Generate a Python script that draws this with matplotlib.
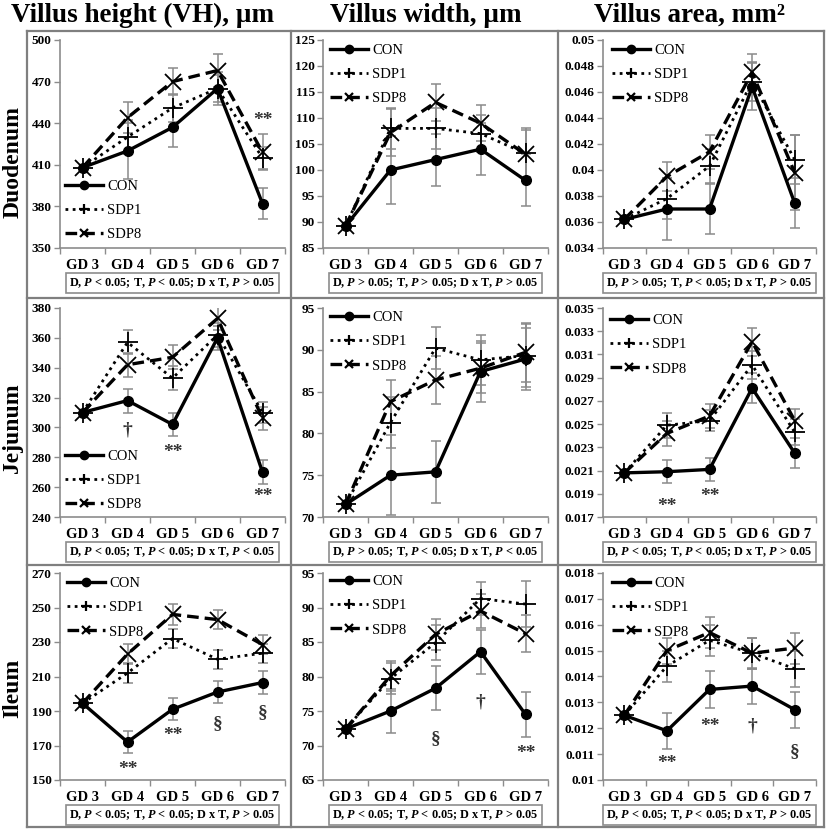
import matplotlib
matplotlib.use('Agg')
import matplotlib.pyplot as plt
from matplotlib.lines import Line2D
from matplotlib.ticker import FixedLocator, NullFormatter, FixedFormatter

plt.rcParams['font.family'] = ['Liberation Serif', 'DejaVu Serif']
plt.rcParams['mathtext.fontset'] = 'custom'
plt.rcParams['mathtext.rm'] = 'Liberation Serif:bold'
plt.rcParams['mathtext.it'] = 'Liberation Serif:italic:bold'
plt.rcParams['mathtext.bf'] = 'Liberation Serif:bold'

# ---------------- data ----------------
days = ['GD 3', 'GD 4', 'GD 5', 'GD 6', 'GD 7']
series_names = ['CON', 'SDP1', 'SDP8']
col_titles = ['Villus height (VH), µm', 'Villus width, µm', 'Villus area, mm²']
row_titles = ['Duodenum', 'Jejunum', 'Ileum']

# Duodenum
duo_vh_con = [408, 420, 437, 465, 382]
duo_vh_sdp1 = [408, 430, 451, 465, 415]
duo_vh_sdp8 = [408, 444, 470, 478, 419]
duo_vh_con_err = [0, 20, 14, 10, 11]
duo_vh_sdp1_err = [0, 12, 10, 12, 8]
duo_vh_sdp8_err = [0, 11, 10, 12, 13]

duo_vw_con = [89.2, 100, 102, 104, 98]
duo_vw_sdp1 = [89.2, 108, 108, 107, 103.2]
duo_vw_sdp8 = [89.2, 107.2, 113, 109, 103]
duo_vw_con_err = [0, 6.5, 5, 5, 5]
duo_vw_sdp1_err = [0, 4, 4, 3.5, 4.5]
duo_vw_sdp8_err = [0, 4.5, 3.5, 3.5, 5]

duo_va_con = [0.0362, 0.0370, 0.0370, 0.0464, 0.03745]
duo_va_sdp1 = [0.0362, 0.0378, 0.0403, 0.0468, 0.0408]
duo_va_sdp8 = [0.0362, 0.0395, 0.0414, 0.0475, 0.0398]
duo_va_con_err = [0, 0.0024, 0.0019, 0.0018, 0.0019]
duo_va_sdp1_err = [0, 0.0016, 0.0013, 0.0015, 0.0019]
duo_va_sdp8_err = [0, 0.0011, 0.0013, 0.0014, 0.0029]

# Jejunum
jej_vh_con = [310, 318, 302, 360, 270]
jej_vh_sdp1 = [310, 357, 333, 362, 310]
jej_vh_sdp8 = [310, 342, 347, 373, 306]
jej_vh_con_err = [0, 8, 7.5, 8, 8]
jej_vh_sdp1_err = [0, 8, 8, 8, 7]
jej_vh_sdp8_err = [0, 8, 8, 8, 8]

jej_vw_con = [71.5, 75, 75.4, 87.4, 88.9]
jej_vw_sdp1 = [71.5, 81.3, 90.2, 88.8, 89.3]
jej_vw_sdp8 = [71.5, 83.8, 86.4, 87.8, 89.7]
jej_vw_con_err = [0, 4.8, 3.7, 3.7, 3.7]
jej_vw_sdp1_err = [0, 3, 2.5, 3, 3.8]
jej_vw_sdp8_err = [0, 2.6, 2.9, 3, 3.5]

jej_va_con = [0.0208, 0.0209, 0.0211, 0.0281, 0.0225]
jej_va_sdp1 = [0.0208, 0.0249, 0.0253, 0.0301, 0.0243]
jej_va_sdp8 = [0.0208, 0.0242, 0.0257, 0.0321, 0.0253]
jej_va_con_err = [0, 0.001, 0.001, 0.0013, 0.0013]
jej_va_sdp1_err = [0, 0.0011, 0.0009, 0.0012, 0.0011]
jej_va_sdp8_err = [0, 0.0011, 0.001, 0.0012, 0.001]

# Ileum
ile_vh_con = [194.5, 172, 191, 201, 206.5]
ile_vh_sdp1 = [194.5, 212, 232, 220, 223.5]
ile_vh_sdp8 = [194.5, 223, 246, 243, 228.5]
ile_vh_con_err = [0, 6.5, 6.5, 6.5, 6.5]
ile_vh_sdp1_err = [0, 6, 5.5, 5.5, 5.5]
ile_vh_sdp8_err = [0, 6, 6, 5.5, 5.5]

ile_vw_con = [72.4, 75, 78.3, 83.6, 74.5]
ile_vw_sdp1 = [72.4, 79.7, 84.9, 91.3, 90.5]
ile_vw_sdp8 = [72.4, 80.1, 86.1, 89.5, 86.2]
ile_vw_con_err = [0, 3.2, 3.2, 3.2, 3.2]
ile_vw_sdp1_err = [0, 2.3, 2.5, 2.4, 3.3]
ile_vw_sdp8_err = [0, 2.2, 2.3, 2.5, 2.7]

ile_va_con = [0.0125, 0.0119, 0.0135, 0.01363, 0.01272]
ile_va_sdp1 = [0.0125, 0.0144, 0.0154, 0.0149, 0.0143]
ile_va_sdp8 = [0.0125, 0.0150, 0.0157, 0.0149, 0.0151]
ile_va_con_err = [0, 0.0007, 0.0007, 0.0007, 0.0007]
ile_va_sdp1_err = [0, 0.0006, 0.0006, 0.0006, 0.0007]
ile_va_sdp8_err = [0, 0.0005, 0.0006, 0.0006, 0.0006]

# y-axis ranges (min, max, step)
duo_vh_axis = (350, 500, 30)
duo_vw_axis = (85, 125, 5)
duo_va_axis = (0.034, 0.05, 0.002)
jej_vh_axis = (240, 380, 20)
jej_vw_axis = (70, 95, 5)
jej_va_axis = (0.017, 0.035, 0.002)
ile_vh_axis = (150, 270, 20)
ile_vw_axis = (65, 95, 5)
ile_va_axis = (0.01, 0.018, 0.001)

# significance marks (day index, y, symbol)
duo_vh_marks = [(4, 442, '**')]
duo_vw_marks = []
duo_va_marks = []
jej_vh_marks = [(1, 298, '†'), (2, 283, '**'), (4, 254, '**')]
jej_vw_marks = []
jej_va_marks = [(1, 0.0179, '**'), (2, 0.0188, '**')]
ile_vh_marks = [(1, 156, '**'), (2, 176, '**'), (3, 183, '§'), (4, 189, '§')]
ile_vw_marks = [(2, 71, '§'), (3, 76.3, '†'), (4, 68.8, '**')]
ile_va_marks = [(1, 0.01065, '**'), (2, 0.01207, '**'), (3, 0.01207, '†'), (4, 0.0111, '§')]

# statistics text
duo_vh_stats = ('<', '<', '>')
duo_vw_stats = ('>', '>', '>')
duo_va_stats = ('>', '<', '>')
jej_vh_stats = ('<', '<', '<')
jej_vw_stats = ('>', '<', '<')
jej_va_stats = ('<', '<', '>')
ile_vh_stats = ('<', '<', '>')
ile_vw_stats = ('<', '<', '>')
ile_va_stats = ('<', '<', '>')

panels = [
    [(duo_vh_con, duo_vh_sdp1, duo_vh_sdp8, duo_vh_con_err, duo_vh_sdp1_err, duo_vh_sdp8_err, duo_vh_axis, duo_vh_marks, duo_vh_stats),
     (duo_vw_con, duo_vw_sdp1, duo_vw_sdp8, duo_vw_con_err, duo_vw_sdp1_err, duo_vw_sdp8_err, duo_vw_axis, duo_vw_marks, duo_vw_stats),
     (duo_va_con, duo_va_sdp1, duo_va_sdp8, duo_va_con_err, duo_va_sdp1_err, duo_va_sdp8_err, duo_va_axis, duo_va_marks, duo_va_stats)],
    [(jej_vh_con, jej_vh_sdp1, jej_vh_sdp8, jej_vh_con_err, jej_vh_sdp1_err, jej_vh_sdp8_err, jej_vh_axis, jej_vh_marks, jej_vh_stats),
     (jej_vw_con, jej_vw_sdp1, jej_vw_sdp8, jej_vw_con_err, jej_vw_sdp1_err, jej_vw_sdp8_err, jej_vw_axis, jej_vw_marks, jej_vw_stats),
     (jej_va_con, jej_va_sdp1, jej_va_sdp8, jej_va_con_err, jej_va_sdp1_err, jej_va_sdp8_err, jej_va_axis, jej_va_marks, jej_va_stats)],
    [(ile_vh_con, ile_vh_sdp1, ile_vh_sdp8, ile_vh_con_err, ile_vh_sdp1_err, ile_vh_sdp8_err, ile_vh_axis, ile_vh_marks, ile_vh_stats),
     (ile_vw_con, ile_vw_sdp1, ile_vw_sdp8, ile_vw_con_err, ile_vw_sdp1_err, ile_vw_sdp8_err, ile_vw_axis, ile_vw_marks, ile_vw_stats),
     (ile_va_con, ile_va_sdp1, ile_va_sdp8, ile_va_con_err, ile_va_sdp1_err, ile_va_sdp8_err, ile_va_axis, ile_va_marks, ile_va_stats)],
]

# ---------------- layout (pixels) ----------------
W, H = 827, 831
fig = plt.figure(figsize=(W / 100, H / 100), dpi=100)
fig.patch.set_facecolor('white')

def fx(x):
    return x / W

def fy(y):
    return 1 - y / H

col_x = [(60, 285), (323, 548), (603, 816)]
row_y = [(40, 248), (308, 517), (573, 780)]
col_title_x = [143, 426, 689]
row_title_y = [162, 428, 688]
legend_pos = [[(65, 188), (330, 52), (612, 52)],
              [(65, 458), (330, 319), (610, 322)],
              [(67, 585), (330, 583), (612, 585)]]

GREY = '#8c8c8c'
ERR = '#8a8a8a'

def fmt_tick(v, step):
    if step < 1:
        s = f"{v:.3f}".rstrip('0')
        return s.rstrip('.')
    return f"{int(round(v))}"

styles = [dict(ls='-', lw=2.4, marker='o', ms=7, mfc='black', mec='black'),
          dict(ls=(0, (1, 1.6)), lw=2.0, marker='+', ms=14, mew=1.3, mec='black'),
          dict(ls=(0, (3.5, 1.8)), lw=2.4, marker='x', ms=11, mew=1.3, mec='black')]
legend_styles = [dict(ls='-', lw=2.4, marker='o', ms=6, mfc='black', mec='black'),
                 dict(ls=(0, (1, 1.6)), lw=2.0, marker='+', ms=7, mew=1.6, mec='black'),
                 dict(ls=(0, (3.5, 1.8)), lw=2.4, marker='x', ms=6, mew=1.6, mec='black')]

x_idx = list(range(len(days)))

for r in range(3):
    for c in range(3):
        con, sdp1, sdp8, econ, esdp1, esdp8, axis, marks, stats = panels[r][c]
        x0, x1 = col_x[c]
        y0, y1 = row_y[r]
        ax = fig.add_axes([fx(x0), fy(y1), (x1 - x0) / W, (y1 - y0) / H])
        ax.set_facecolor('none')
        ymin, ymax, step = axis
        nt = int(round((ymax - ymin) / step))
        yt = [ymin + i * step for i in range(nt + 1)]
        ax.set_ylim(ymin, ymax)
        ax.set_xlim(-0.5, 4.5)
        ax.yaxis.set_major_locator(FixedLocator(yt))
        ax.yaxis.set_major_formatter(FixedFormatter([fmt_tick(v, step) for v in yt]))
        ax.xaxis.set_major_locator(FixedLocator([i - 0.5 for i in range(6)]))
        ax.xaxis.set_major_formatter(NullFormatter())
        ax.xaxis.set_minor_locator(FixedLocator(x_idx))
        ax.xaxis.set_minor_formatter(FixedFormatter(days))
        ax.tick_params(axis='x', which='major', direction='out', length=4, width=1, color=GREY)
        ax.tick_params(axis='x', which='minor', length=0, pad=8, labelsize=10.5)
        ax.tick_params(axis='y', direction='out', length=4, width=1, color=GREY,
                       labelsize=9.5, pad=2)
        for lab in ax.get_xticklabels(minor=True):
            lab.set_fontweight('bold')
        for lab in ax.get_yticklabels():
            lab.set_fontweight('bold')
        for s in ['top', 'right']:
            ax.spines[s].set_visible(False)
        for s in ['left', 'bottom']:
            ax.spines[s].set_color(GREY)
            ax.spines[s].set_linewidth(1.2)

        for vals, errs in [(con, econ), (sdp1, esdp1), (sdp8, esdp8)]:
            ax.errorbar(x_idx, vals, yerr=errs, fmt='none', ecolor=ERR, elinewidth=1.1,
                        capsize=3.5, capthick=1.1, zorder=2)
        for vals, st in zip([con, sdp1, sdp8], styles):
            ax.plot(x_idx, vals, color='black', zorder=3, clip_on=False, **st)

        for (i, yv, sym) in marks:
            ax.text(i, yv, sym, ha='center', va='center', fontsize=14,
                    fontweight='bold', color='#333333', zorder=4)

        handles = [Line2D([], [], color='black', **st) for st in legend_styles]
        lx, ly = legend_pos[r][c]
        anchor = ((lx - x0) / (x1 - x0), (y1 - (ly - 8)) / (y1 - y0))
        leg = ax.legend(handles, series_names, loc='upper left', bbox_to_anchor=anchor,
                        frameon=False, borderpad=0, borderaxespad=0, handlelength=2.6,
                        handletextpad=0.3, labelspacing=0.75,
                        prop={'family': 'Liberation Serif', 'size': 10.5})

        d, t, dt = stats
        txt = (r"D, $P$ " + d + " 0.05; T, $P$ " + t + " 0.05; D x T, $P$ " + dt + " 0.05")
        fig.text(fx((x0 + x1) / 2), fy(y1 + 35), txt, ha='center', va='center',
                 fontsize=8.8, fontweight='bold',
                 bbox=dict(boxstyle='square,pad=0.25', fc='white', ec=GREY, lw=1.2))

# titles
for c in range(3):
    fig.text(fx(col_title_x[c]), fy(15), col_titles[c], ha='center', va='center',
             fontsize=19.5, fontweight='bold')
for r in range(3):
    fig.text(fx(13), fy(row_title_y[r]), row_titles[r], ha='center', va='center',
             rotation=90, fontsize=17, fontweight='bold')

# grid of boxes
LINE = '#7f7f7f'
xl, xr, yt_, yb = 27, 824, 31, 827
for xv in [xl, 291, 558, xr]:
    fig.add_artist(Line2D([fx(xv), fx(xv)], [fy(yt_), fy(yb)], color=LINE, lw=1.6,
                          transform=fig.transFigure))
for yv in [yt_, 298, 565, yb]:
    fig.add_artist(Line2D([fx(xl), fx(xr)], [fy(yv), fy(yv)], color=LINE, lw=1.6,
                          transform=fig.transFigure))

fig.savefig('out.png', dpi=100, facecolor='white')
